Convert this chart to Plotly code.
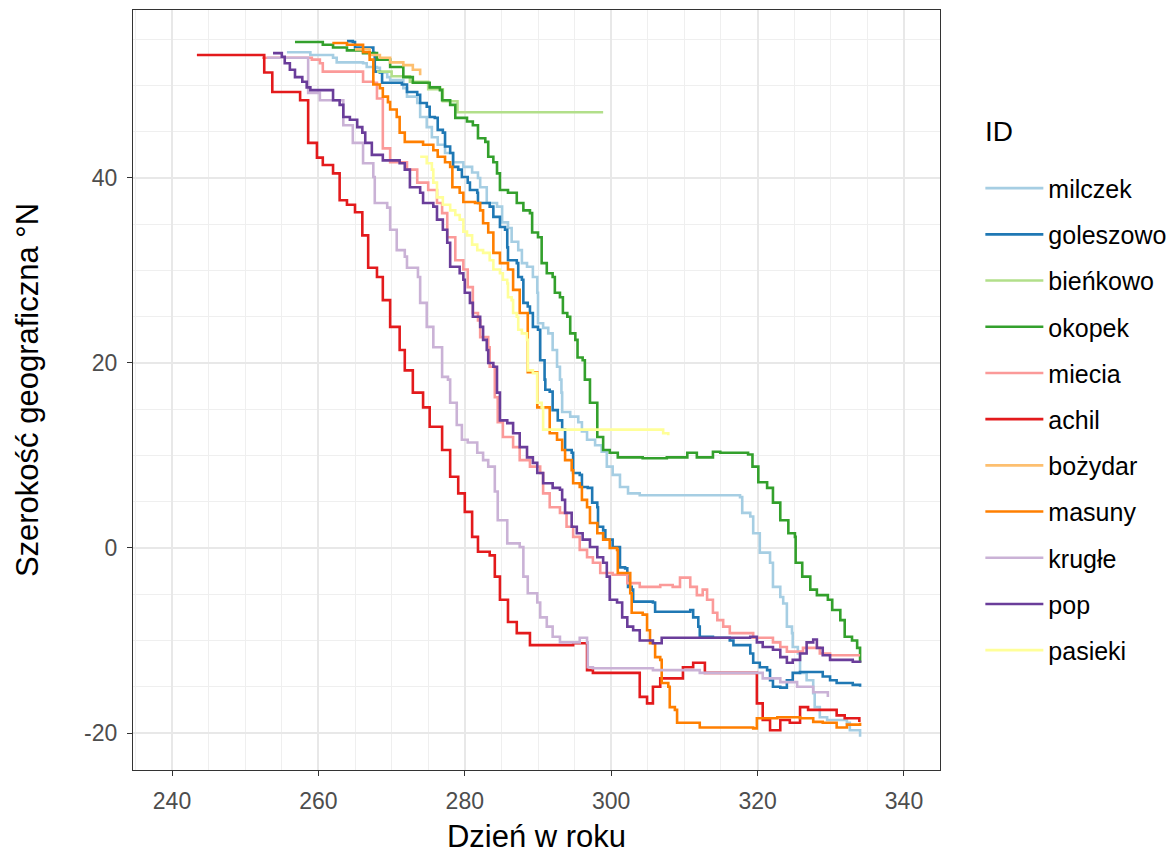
import plotly.graph_objects as go

ids = ["milczek", "goleszowo", "bieńkowo", "okopek", "miecia", "achil",
       "bożydar", "masuny", "krugłe", "pop", "pasieki"]
colors = ["#A6CEE3", "#1F78B4", "#B2DF8A", "#33A02C", "#FB9A99", "#E31A1C",
          "#FDBF6F", "#FF7F00", "#CAB2D6", "#6A3D9A", "#FFFF99"]

milczek_day = [255.7, 258.9, 262.0, 262.5, 266.1, 266.6, 268.0, 268.4, 269.4, 269.8, 271.6, 272.1, 273.5, 273.9,
               274.8, 275.5, 276.3, 277.3, 278.4, 279.8, 281.0, 281.8, 282.1, 283.0, 284.4, 285.1, 285.9, 286.4,
               287.3, 287.8, 288.5, 289.3, 289.9, 290.0, 290.7, 291.4, 292.0, 292.6, 293.0, 293.2, 293.3, 294.4,
               295.5, 296.0, 296.7, 297.8, 298.7, 299.4, 300.2, 301.2, 302.3, 303.9, 315.8, 317.6, 317.9, 319.0,
               319.4, 320.3, 321.7, 322.1, 323.1, 323.5, 324.0, 324.7, 324.8, 325.5, 325.8, 326.7, 327.6, 327.8,
               328.5, 329.5, 332.2, 332.6, 334.0]
milczek_lat = [53.6, 53.3, 53.0, 52.5, 52.4, 52.0, 51.9, 51.4, 50.9, 50.6, 49.7, 48.8, 48.1, 46.6,
               45.5, 44.4, 43.6, 42.7, 41.7, 41.2, 40.6, 40.0, 39.0, 37.3, 36.9, 35.2, 34.6, 33.1,
               32.2, 30.8, 30.4, 29.3, 27.6, 24.3, 23.8, 23.2, 21.4, 19.6, 18.2, 16.8, 14.7, 14.2,
               13.6, 12.6, 11.7, 11.1, 10.4, 8.8, 7.9, 6.6, 5.9, 5.7, 5.7, 5.5, 3.8, 3.4,
               1.6, -0.5, -1.6, -4.2, -5.3, -6.0, -8.5, -9.2, -10.7, -11.4, -13.5, -14.3, -15.7, -17.2,
               -18.3, -18.6, -18.9, -19.7, -20.4]

goleszowo_day = [263.9, 264.7, 265.0, 267.5, 267.7, 268.4, 268.7, 271.4, 272.1, 273.5, 273.9, 274.8, 275.2, 275.9,
                 276.3, 277.0, 277.3, 278.0, 278.4, 279.1, 279.6, 280.4, 280.7, 281.7, 281.8, 283.4, 283.9, 284.8,
                 285.5, 285.8, 285.9, 287.1, 287.3, 287.8, 288.0, 288.6, 288.9, 289.3, 290.0, 290.3, 290.9, 291.0,
                 291.6, 292.0, 292.7, 293.3, 293.7, 294.6, 294.8, 295.7, 296.0, 296.8, 297.4, 298.1, 298.2, 298.9,
                 299.2, 300.2, 301.2, 301.9, 302.2, 302.3, 302.8, 303.0, 305.7, 306.0, 310.8, 311.2, 311.9, 312.1,
                 313.9, 316.2, 316.7, 318.6, 319.0, 319.4, 320.3, 321.3, 321.7, 322.1, 323.1, 324.0, 324.8, 325.8,
                 327.6, 328.9, 329.9, 330.8, 333.0, 334.0]
goleszowo_lat = [54.8, 54.7, 54.1, 53.5, 51.5, 51.4, 50.3, 50.1, 49.3, 49.0, 48.1, 47.7, 46.6, 46.5,
                 45.2, 44.9, 43.4, 42.7, 41.2, 40.9, 40.1, 39.5, 38.7, 38.4, 37.3, 36.9, 35.8, 34.7,
                 34.4, 32.5, 31.1, 30.8, 29.3, 29.0, 26.5, 26.1, 25.4, 23.9, 23.6, 20.3, 18.2, 17.1,
                 16.9, 14.9, 13.8, 12.8, 10.6, 10.3, 8.1, 7.9, 6.6, 6.5, 4.9, 4.4, 2.3, 1.9,
                 0.9, 0.1, -2.1, -2.2, -3.1, -4.2, -4.5, -5.8, -5.9, -6.9, -6.7, -7.5, -8.5, -9.6,
                 -9.7, -10.0, -10.5, -10.5, -11.4, -12.4, -12.9, -13.2, -14.3, -15.0, -15.1, -14.3, -13.5, -13.4,
                 -13.4, -13.9, -14.3, -14.6, -14.8, -15.0]

bienkowo_day = [268.0, 270.0, 272.5, 275.0, 277.0, 279.0, 298.9]
bienkowo_lat = [51.5, 51.0, 50.4, 49.6, 48.3, 47.1, 47.1]

okopek_day = [256.8, 260.6, 262.0, 263.9, 266.1, 268.0, 269.8, 271.6, 272.9, 275.2, 276.6, 276.9, 278.0, 278.7,
              280.3, 281.1, 281.8, 282.8, 283.2, 283.9, 284.4, 284.8, 285.9, 287.1, 288.0, 288.9, 289.2, 290.0,
              290.5, 291.2, 292.0, 292.3, 293.0, 293.4, 294.0, 294.4, 295.1, 295.4, 296.1, 296.4, 297.1, 298.1,
              298.9, 299.8, 300.9, 304.3, 307.6, 310.4, 311.7, 313.9, 314.9, 318.7, 319.3, 320.1, 321.3, 322.1,
              323.1, 324.2, 325.1, 325.2, 326.1, 327.2, 328.1, 329.6, 330.2, 331.3, 331.9, 332.9, 333.6, 334.0]
okopek_lat = [54.7, 54.4, 54.1, 53.8, 53.5, 52.8, 52.0, 50.9, 50.3, 49.8, 49.5, 48.4, 47.9, 46.5,
              46.1, 45.7, 44.3, 43.9, 42.3, 41.7, 40.5, 38.7, 38.4, 37.3, 36.5, 36.2, 34.1, 33.6,
              30.8, 29.7, 29.3, 27.6, 27.1, 25.4, 25.0, 23.2, 22.5, 20.6, 20.3, 18.2, 15.7, 12.0,
              10.6, 10.3, 9.8, 9.7, 9.8, 10.3, 9.8, 10.4, 10.3, 10.1, 8.8, 7.1, 6.5, 4.9,
              3.0, 1.6, 1.2, -1.6, -3.1, -4.5, -5.1, -5.6, -6.7, -7.8, -9.6, -10.0, -10.8, -12.4]

miecia_day = [252.3, 259.1, 260.2, 260.6, 266.1, 267.5, 268.0, 268.8, 269.8, 272.1, 273.5, 275.0, 276.2, 276.9,
              277.6, 278.7, 279.8, 280.4, 281.1, 281.8, 282.1, 283.2, 283.4, 284.1, 284.5, 285.2, 286.6, 287.5,
              288.9, 290.3, 290.7, 291.6, 293.0, 293.9, 294.8, 295.7, 296.7, 297.5, 298.5, 300.2, 302.2, 303.9,
              306.7, 308.4, 309.4, 310.8, 311.7, 312.5, 313.1, 313.9, 314.5, 315.3, 316.2, 318.6, 319.4, 322.1,
              323.1, 324.0, 326.2, 328.5, 329.9, 334.0]
miecia_lat = [53.0, 52.8, 52.4, 51.5, 50.4, 50.3, 48.6, 43.2, 41.7, 40.9, 39.5, 38.7, 37.3, 36.2,
              33.6, 31.1, 30.1, 28.2, 25.4, 24.6, 22.8, 21.7, 19.6, 16.3, 13.6, 12.0, 10.9, 9.5,
              8.8, 8.1, 5.9, 4.4, 3.8, 2.3, 1.2, -0.2, -1.0, -1.6, -2.7, -2.9, -3.8, -4.2,
              -4.0, -4.2, -3.2, -4.2, -5.1, -4.5, -5.6, -7.0, -7.8, -8.5, -9.2, -9.2, -9.7, -10.2,
              -10.7, -11.2, -10.8, -11.4, -11.6, -11.6]

achil_day = [243.4, 252.6, 252.6, 253.7, 257.5, 258.6, 259.8, 260.6, 262.0, 262.9, 263.9, 265.0, 266.0, 266.8,
             268.0, 268.8, 269.8, 271.1, 271.8, 272.9, 274.3, 275.2, 276.9, 278.0, 279.1, 280.0, 281.0, 281.8,
             283.4, 284.1, 284.8, 285.9, 287.1, 288.9, 294.8, 296.7, 297.5, 303.9, 303.9, 304.9, 305.7, 306.7,
             309.8, 311.2, 312.8, 319.9, 319.9, 320.7, 321.7, 323.1, 324.4, 325.8, 326.9, 330.8, 331.9, 333.9]
achil_lat = [53.3, 53.3, 51.4, 49.3, 48.4, 43.8, 42.2, 41.4, 40.5, 37.6, 37.1, 36.3, 33.8, 30.3,
             29.3, 26.8, 23.9, 21.4, 19.2, 16.8, 15.2, 13.1, 10.6, 7.7, 5.9, 3.9, 1.2, -0.4,
             -0.8, -3.1, -5.6, -8.0, -9.2, -10.5, -10.3, -13.2, -13.5, -13.5, -16.1, -16.8, -15.0, -14.1,
             -12.9, -12.4, -13.5, -13.5, -16.8, -18.6, -19.7, -18.6, -18.9, -17.2, -17.5, -18.1, -18.4, -18.8]

bozydar_day = [265.0, 267.0, 268.4, 269.8, 271.6, 272.9, 273.9]
bozydar_lat = [53.9, 53.3, 53.0, 52.5, 52.2, 51.7, 51.1]

masuny_day = [261.9, 263.9, 266.1, 267.0, 267.5, 268.4, 268.8, 269.5, 269.8, 270.7, 271.1, 271.8, 274.3, 275.7,
              276.3, 277.3, 278.0, 278.3, 279.3, 279.8, 281.4, 282.1, 282.5, 283.2, 283.9, 284.8, 285.9, 286.6,
              287.5, 288.6, 289.9, 291.6, 292.6, 293.3, 293.7, 294.6, 294.8, 295.7, 296.0, 296.7, 297.1, 298.1,
              298.9, 299.8, 300.8, 300.9, 302.6, 302.8, 304.3, 304.9, 305.3, 306.0, 306.7, 306.9, 307.8, 308.0,
              308.7, 309.0, 310.4, 312.1, 319.4, 319.9, 322.7, 325.8, 327.6, 328.9, 330.8, 332.2, 334.0]
masuny_lat = [54.6, 54.4, 53.6, 52.8, 50.1, 49.7, 48.8, 48.2, 47.4, 46.6, 44.9, 43.9, 43.6, 43.0,
              42.3, 41.7, 41.2, 39.0, 38.4, 37.4, 37.3, 36.5, 35.1, 34.1, 31.9, 30.8, 30.1, 27.9,
              25.4, 19.0, 15.2, 12.4, 11.7, 10.6, 9.5, 8.4, 7.0, 6.6, 5.2, 4.4, 2.7, 1.6,
              0.9, 0.0, -0.2, -2.7, -4.9, -7.0, -7.2, -8.9, -10.3, -11.8, -12.1, -14.6, -15.0, -17.2,
              -17.5, -18.9, -18.9, -19.4, -19.5, -18.4, -18.3, -18.4, -18.8, -18.9, -19.4, -19.1, -18.9]

krugle_day = [253.0, 258.6, 260.2, 263.4, 264.7, 266.1, 267.5, 267.7, 269.4, 269.8, 270.7, 271.8, 272.1, 273.6,
              273.9, 274.8, 275.7, 276.9, 277.7, 278.0, 278.9, 279.6, 280.4, 281.7, 282.5, 283.2, 284.1, 284.5,
              285.8, 287.5, 288.0, 288.6, 289.9, 290.3, 291.2, 292.0, 293.0, 295.7, 296.7, 296.8, 297.5, 305.7,
              312.1, 320.7, 323.1, 325.4, 327.6, 329.6]
krugle_lat = [53.0, 49.2, 48.4, 45.7, 43.8, 41.6, 40.1, 37.3, 36.8, 34.4, 32.2, 31.5, 30.3, 29.3,
              26.5, 23.9, 21.7, 18.5, 18.2, 15.7, 13.3, 11.7, 11.4, 10.3, 9.5, 8.8, 6.1, 3.0,
              0.5, 0.1, -3.1, -4.9, -5.9, -7.5, -8.5, -9.6, -10.2, -9.7, -10.2, -12.9, -13.0, -13.2,
              -13.5, -14.1, -14.5, -15.0, -15.6, -16.1]

pop_day = [253.8, 255.0, 255.4, 256.1, 256.8, 257.8, 258.4, 258.9, 262.0, 262.9, 263.4, 264.3, 265.3, 266.0,
           266.4, 267.3, 268.8, 271.1, 271.8, 272.5, 273.9, 274.3, 275.7, 276.2, 277.0, 277.6, 278.0, 279.3,
           279.8, 280.0, 280.7, 281.1, 282.1, 282.5, 283.0, 283.2, 283.9, 284.4, 284.8, 285.8, 286.6, 287.5,
           288.5, 289.3, 289.9, 290.7, 292.0, 293.0, 293.3, 293.7, 294.6, 295.3, 296.1, 297.1, 298.1, 298.9,
           299.4, 299.8, 300.8, 301.5, 302.2, 303.0, 303.9, 305.7, 306.9, 319.0, 319.9, 320.7, 322.1, 323.1,
           324.0, 324.8, 325.8, 326.7, 327.6, 328.1, 328.9, 329.9, 333.0, 334.0]
pop_lat = [53.5, 53.1, 52.4, 51.7, 50.9, 50.4, 49.8, 49.5, 48.4, 47.9, 46.6, 46.3, 45.5, 44.9,
           43.8, 42.5, 41.9, 41.6, 40.9, 39.0, 38.4, 37.3, 36.9, 35.5, 34.4, 33.0, 30.4, 29.7,
           29.0, 27.6, 26.5, 25.0, 23.9, 22.5, 21.4, 20.0, 19.6, 16.8, 13.8, 13.5, 12.4, 10.9,
           9.8, 9.2, 8.1, 7.0, 6.5, 6.3, 5.2, 3.8, 2.3, 1.6, 0.9, 0.1, -1.0, -1.6,
           -3.1, -5.6, -5.9, -7.5, -8.5, -8.9, -10.0, -10.3, -9.7, -9.6, -10.2, -10.7, -11.0, -11.8,
           -12.4, -12.1, -11.4, -10.2, -9.9, -10.8, -11.6, -12.1, -12.3, -12.4]

pasieki_day = [273.9, 274.8, 275.5, 275.7, 276.2, 277.0, 278.0, 278.7, 279.3, 279.8, 280.3, 281.0, 281.7, 282.5,
               283.4, 283.9, 284.8, 285.2, 285.8, 285.9, 286.4, 286.6, 287.1, 287.3, 287.8, 288.5, 288.6, 289.3,
               289.9, 290.5, 290.7, 306.7, 307.1, 307.8]
pasieki_lat = [42.3, 41.6, 40.9, 39.5, 37.9, 37.1, 36.5, 36.0, 35.5, 34.2, 33.8, 32.8, 32.2, 31.9,
               31.1, 30.1, 29.7, 29.0, 28.6, 27.1, 26.8, 25.4, 25.0, 23.6, 23.2, 22.5, 19.2, 18.9,
               15.7, 15.2, 12.8, 12.8, 12.4, 12.2]

series = [
    (milczek_day, milczek_lat), (goleszowo_day, goleszowo_lat), (bienkowo_day, bienkowo_lat),
    (okopek_day, okopek_lat), (miecia_day, miecia_lat), (achil_day, achil_lat),
    (bozydar_day, bozydar_lat), (masuny_day, masuny_lat), (krugle_day, krugle_lat),
    (pop_day, pop_lat), (pasieki_day, pasieki_lat),
]

x_ticks = [240, 260, 280, 300, 320, 340]
y_ticks = [-20, 0, 20, 40]
y_tick_labels = ["-20", "0", "20", "40"]

FONT = "Liberation Sans, Arial, sans-serif"

fig = go.Figure()
for name, col, (d, la) in zip(ids, colors, series):
    fig.add_trace(go.Scatter(
        x=d, y=la, mode="lines", name=name, line=dict(color=col, width=2.6, shape="hv"),
        legendgroup=name,
    ))

axis_common = dict(
    showgrid=True, gridcolor="#E8E8E8", gridwidth=1.6,
    zeroline=False, showline=True, linecolor="#333333", linewidth=1.3, mirror=True,
    ticks="outside", ticklen=5, tickcolor="#333333", tickwidth=1.2,
    tickfont=dict(family=FONT, size=23, color="#4D4D4D"),
    ticklabelstandoff=5,
    minor=dict(showgrid=True, gridcolor="#EFEFEF", gridwidth=1.0),
    automargin=False,
)

fig.update_layout(
    width=1175, height=853,
    paper_bgcolor="white", plot_bgcolor="white",
    margin=dict(l=125, r=243, t=2, b=91, autoexpand=False),
    font=dict(family=FONT, color="black"),
    xaxis=dict(axis_common, range=[234.67, 344.92], tickvals=x_ticks,
               title=dict(text="Dzień w roku", font=dict(family=FONT, size=31, color="black"), standoff=12)),
    yaxis=dict(axis_common, range=[-24.0, 58.16], tickvals=y_ticks, ticktext=y_tick_labels,
               title=dict(text="Szerokość geograficzna °N", font=dict(family=FONT, size=31, color="black"), standoff=36)),
    legend=dict(
        font=dict(family=FONT, size=25, color="black"),
        x=1.05, xanchor="left", y=0.7955, yanchor="top",
        tracegroupgap=10.7, itemwidth=58,
        bgcolor="rgba(0,0,0,0)",
    ),
    annotations=[dict(
        text="ID", xref="paper", yref="paper", x=1.0533, y=0.8395,
        xanchor="left", yanchor="middle", showarrow=False,
        font=dict(family=FONT, size=28, color="black"),
    )],
)

fig.write_html("out.html")
